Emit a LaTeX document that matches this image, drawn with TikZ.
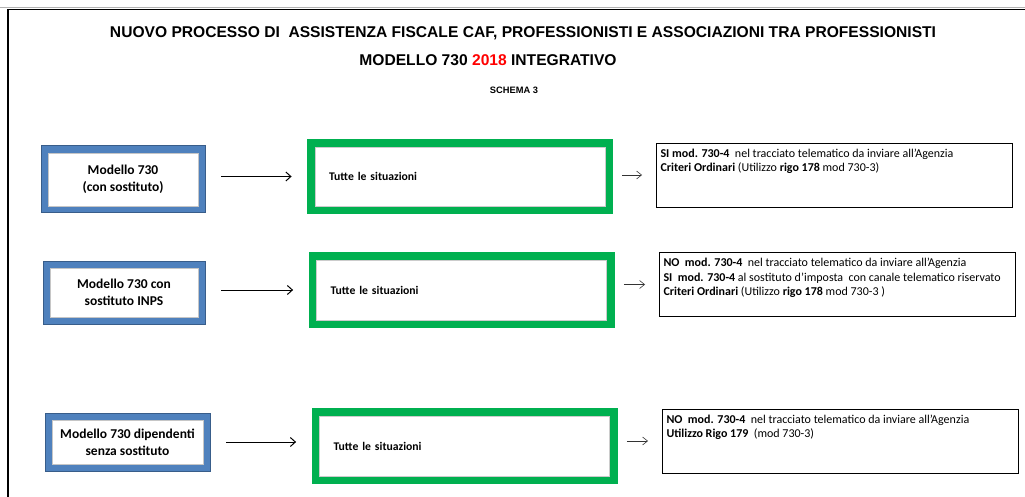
\documentclass[tikz,border=0pt]{standalone}
\usepackage{fontspec}
\setmainfont{Carlito}
\newfontfamily\titlefont{Liberation Sans}
\usetikzlibrary{arrows,arrows.meta}
\definecolor{boxblue}{HTML}{4F81BD}
\definecolor{boxedge}{HTML}{385D8A}
\definecolor{boxgreen}{HTML}{00B050}
\definecolor{yearred}{HTML}{FF0000}
\newcommand{\esitotext}[1]{\parbox[c][56pt][t]{348pt}{\strut#1}}

\tikzset{
  srcbox/.style={preaction={draw=boxedge,line width=15pt},
    preaction={draw=boxblue,line width=13pt},
    fill=white,draw=gray!45,line width=0.8pt,align=center,inner sep=0pt,
    font=\fontsize{13.5}{17}\selectfont\bfseries},
  sitbox/.style={preaction={draw=boxgreen,line width=16pt},
    fill=white,draw=gray!40,line width=0.8pt,align=left,
    text width=262pt,inner xsep=14pt,minimum height=60pt,
    font=\fontsize{11.7}{13}\selectfont\bfseries},
  esitobox/.style={draw=black,line width=0.9pt,inner sep=4pt,
    font=\fontsize{12}{14.5}\selectfont},
  arr/.style={-{Straight Barb[length=5pt,width=9pt]},line width=1pt,
    shorten <=23pt,shorten >=23pt},
  smallarr/.style={-{Straight Barb[length=5pt,width=8pt]},line width=0.6pt,
    draw=black!80,shorten <=17pt,shorten >=14pt}
}

\begin{document}
\begin{tikzpicture}[x=1pt,y=1pt]
\useasboundingbox (0,0) rectangle (1025,-497);
% The frame
\draw[gray!60,line width=1pt] (0,-7.5) -- (1025,-7.5);
\draw[line width=1.2pt] (8,-497) -- (8,-9.5) -- (1025,-9.5);
% The titles
\node[font=\titlefont\fontsize{15.6}{18}\selectfont\bfseries] (title) at (523,-33)
  {NUOVO PROCESSO DI \ ASSISTENZA FISCALE CAF, PROFESSIONISTI E ASSOCIAZIONI TRA PROFESSIONISTI};
\node[font=\titlefont\fontsize{15.6}{18}\selectfont\bfseries] (subtitle) at (488,-60)
  {MODELLO 730 {\color{yearred}2018} INTEGRATIVO};
\node[font=\titlefont\fontsize{9.3}{11}\selectfont\bfseries] (schema) at (514,-90) {SCHEMA 3};
% Row 1
\node[srcbox,minimum width=150pt,minimum height=53pt] (src1) at (123,-179.5)
  {Modello 730\\(con sostituto)};
\node[sitbox,minimum height=59pt] (sit1) at (460,-176.5) {Tutte le situazioni};
\node[esitobox] (esito1) at (834.5,-175)
  {\esitotext{\textbf{SI mod. 730-4}\ \ nel tracciato telematico da inviare all'Agenzia\\
   \textbf{Criteri Ordinari} (Utilizzo \textbf{rigo 178} mod 730-3)}};
\draw[arr] (src1.east |- sit1.west) -- (sit1.west);
\draw[smallarr] (sit1.east |- esito1.west) -- (esito1.west);
% Row 2
\node[srcbox,minimum width=148pt,minimum height=49pt] (src2) at (124,-292.5)
  {Modello 730 con\\sostituto INPS};
\node[sitbox] (sit2) at (461.5,-290) {Tutte le situazioni};
\node[esitobox] (esito2) at (837.5,-284.5)
  {\esitotext{\textbf{NO\ \ mod. 730-4}\ \ nel tracciato telematico da inviare all'Agenzia\\
   \textbf{SI\ \ mod. 730-4} al sostituto d'imposta\ \ con canale telematico riservato\\
   \textbf{Criteri Ordinari} (Utilizzo \textbf{rigo 178} mod 730-3 )}};
\draw[arr] (src2.east |- sit2.west) -- (sit2.west);
\draw[smallarr] (sit2.east |- esito2.west) -- (esito2.west);
% Row 3
\node[srcbox,minimum width=151pt,minimum height=44pt] (src3) at (127.5,-442)
  {Modello 730 dipendenti\\senza sostituto};
\node[sitbox] (sit3) at (464.5,-446) {Tutte le situazioni};
\node[esitobox] (esito3) at (840.5,-441)
  {\esitotext{\textbf{NO\ \ mod. 730-4}\ \ nel tracciato telematico da inviare all'Agenzia\\
   \textbf{Utilizzo Rigo 179}\ \ (mod 730-3)}};
\draw[arr] (src3.east) -- (sit3.west |- src3.east);
\draw[smallarr] (sit3.east |- esito3.west) -- (esito3.west);
\end{tikzpicture}
\end{document}
